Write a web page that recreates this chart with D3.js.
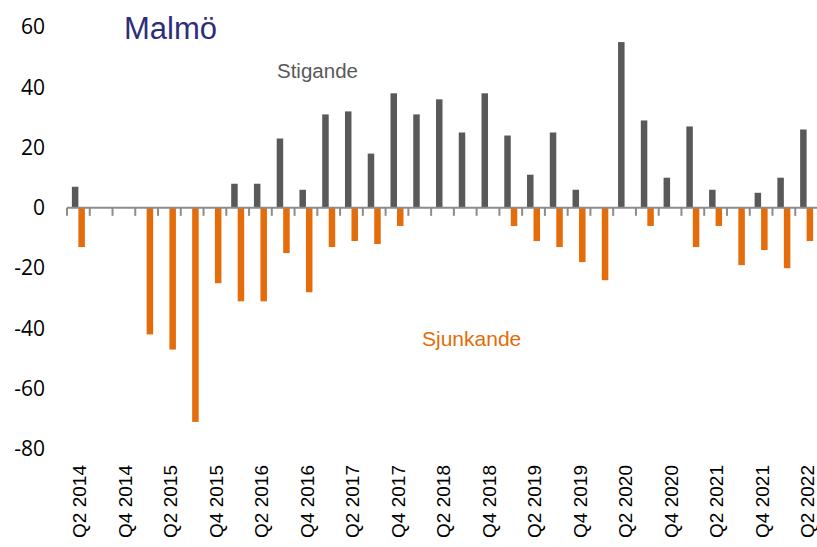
<!DOCTYPE html>
<html>
<head>
<meta charset="utf-8">
<script src="https://cdn.jsdelivr.net/npm/d3@7"></script>
<style>
  body { margin: 0; background: #fff; }
  .yaxis text { font-family: "Open Sans", sans-serif; font-size: 21px; fill: #000; }
  .xaxis text { font-family: "Liberation Sans", Arial, sans-serif; font-size: 19px; fill: #000; }
</style>
</head>
<body>
<div id="chart"></div>
<script>

var width = 817,
    height = 547;

// Quarters Q2 2014 .. Q2 2022
var quarters = [];
for (var yr = 2014; yr <= 2022; yr++) {
  for (var q = 1; q <= 4; q++) {
    if ((yr === 2014 && q < 2) || (yr === 2022 && q > 2)) continue;
    quarters.push("Q" + q + " " + yr);
  }
}

// Share reporting rising / falling
var stigande   = [7, 0, 0, 0, 0, 0, 0, 8, 8, 23, 6, 31, 32, 18, 38, 31, 36,
                  25, 38, 24, 11, 25, 6, 0, 55, 29, 10, 27, 6, 0, 5, 10, 26];
var sjunkande  = [-13, 0, 0, -42, -47, -71, -25, -31, -31, -15, -28, -13, -11, -12, -6, 0, 0,
                  0, 0, -6, -11, -13, -18, -24, 0, -6, 0, -13, -6, -19, -14, -20, -11];

var yTicks = [-80, -60, -40, -20, 0, 20, 40, 60];

var svg = d3.select("#chart").append("svg")
    .attr("width", width)
    .attr("height", height);

var x = d3.scaleBand()
    .domain(quarters)
    .range([67, 818]);

var y = d3.scaleLinear()
    .domain([-80, 60])
    .range([449, 27]);

var barW = 6.5;
var sub = d3.scaleBand()
    .domain(["s", "j"])
    .range([x.bandwidth() / 2 - barW, x.bandwidth() / 2 + barW]);

// y labels only (plain hyphen minus like the original)
var yAxis = svg.append("g")
    .attr("class", "yaxis")
    .attr("transform", "translate(45,0)")
    .call(d3.axisLeft(y).tickValues(yTicks).tickSize(0).tickPadding(0)
      .tickFormat(function(d) { return String(d); }));
yAxis.select(".domain").remove();

// bars
svg.selectAll(".stig")
    .data(stigande)
  .enter().append("rect")
    .attr("class", "stig")
    .attr("x", function(d, i) { return x(quarters[i]) + sub("s"); })
    .attr("width", sub.bandwidth())
    .attr("y", function(d) { return y(Math.max(0, d)); })
    .attr("height", function(d) { return Math.abs(y(d) - y(0)); })
    .attr("fill", "#595959");

svg.selectAll(".sjunk")
    .data(sjunkande)
  .enter().append("rect")
    .attr("class", "sjunk")
    .attr("x", function(d, i) { return x(quarters[i]) + sub("j"); })
    .attr("width", sub.bandwidth())
    .attr("y", function(d) { return y(Math.max(0, d)); })
    .attr("height", function(d) { return Math.abs(y(d) - y(0)); })
    .attr("fill", "#e46c0a");

// category axis at zero, ticks between categories
var zeroY = y(0);
svg.append("line")
    .attr("x1", x.range()[0]).attr("x2", x.range()[1])
    .attr("y1", zeroY).attr("y2", zeroY)
    .attr("stroke", "#8c8c8c")
    .attr("stroke-width", 2);

svg.selectAll(".tick-mark")
    .data(quarters)
  .enter().append("line")
    .attr("class", "tick-mark")
    .attr("x1", function(d) { return x(d); })
    .attr("x2", function(d) { return x(d); })
    .attr("y1", zeroY)
    .attr("y2", zeroY + 8)
    .attr("stroke", "#8c8c8c")
    .attr("stroke-width", 2);

// rotated labels for every other quarter, at the bottom
svg.append("g")
    .attr("class", "xaxis")
  .selectAll("text")
    .data(quarters.filter(function(d, i) { return i % 2 === 0; }))
  .enter().append("text")
    .attr("transform", function(d) {
      return "translate(" + (x(d) + x.bandwidth() / 2 + 1) + ",465) rotate(-90)";
    })
    .attr("text-anchor", "end")
    .attr("dy", "0.35em")
    .text(function(d) { return d; });

// titles
svg.append("text")
    .attr("x", 124).attr("y", 39)
    .attr("font-family", "Liberation Sans, Arial, sans-serif")
    .attr("font-size", 31)
    .attr("fill", "#2e2d7a")
    .text("Malmö");

svg.append("text")
    .attr("x", 277).attr("y", 78)
    .attr("font-family", "Liberation Sans, Arial, sans-serif")
    .attr("font-size", 20.5)
    .attr("fill", "#595959")
    .text("Stigande");

svg.append("text")
    .attr("x", 422).attr("y", 346)
    .attr("font-family", "Liberation Sans, Arial, sans-serif")
    .attr("font-size", 21)
    .attr("fill", "#e36c0a")
    .text("Sjunkande");

</script>
</body>
</html>
